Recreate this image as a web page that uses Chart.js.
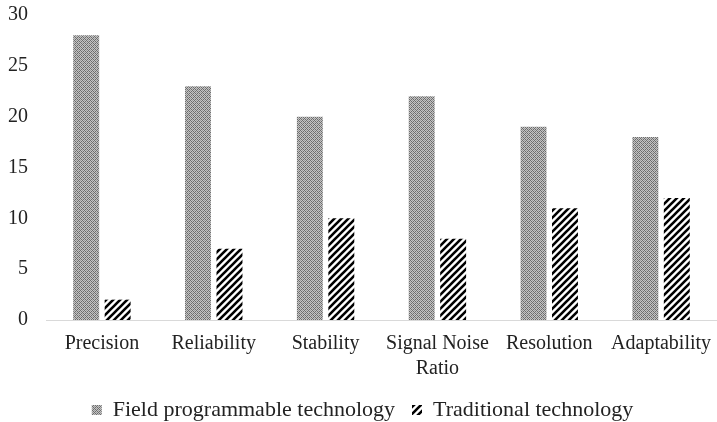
<!DOCTYPE html>
<html><head><meta charset="utf-8">
<script src="https://cdn.jsdelivr.net/npm/chart.js@4"></script>
<style>html,body{margin:0;padding:0;background:#fff}#w{width:717px;height:422px}</style>
</head><body><div id="w"><canvas id="c"></canvas></div>
<script>
const categories = ["Precision", "Reliability", "Stability", ["Signal Noise", "Ratio"], "Resolution", "Adaptability"];
const fieldValues = [28, 23, 20, 22, 19, 18];
const traditionalValues = [2, 7, 10, 8, 11, 12];
const seriesNames = ["Field programmable technology", "Traditional technology"];
const yTicks = [0, 5, 10, 15, 20, 25, 30];

function checkerPattern() {
  const c = document.createElement('canvas'); c.width = 4; c.height = 4;
  const x = c.getContext('2d');
  x.fillStyle = '#c4c4c4'; x.fillRect(0,0,4,4);
  x.fillStyle = '#6c6c6c';
  for (let i=0;i<4;i++) for (let j=0;j<4;j++) if ((i+j)%2===0) x.fillRect(i,j,1,1);
  x.fillStyle = '#999'; x.fillRect(0,0,1,1); x.fillRect(2,2,1,1);
  return x.createPattern(c, 'repeat');
}
function stripePattern() {
  const s = 7;
  const c = document.createElement('canvas'); c.width = s; c.height = s;
  const x = c.getContext('2d');
  x.fillStyle = '#fff'; x.fillRect(0,0,s,s);
  x.strokeStyle = '#000'; x.lineWidth = 2.6; x.lineCap = 'square';
  x.beginPath();
  x.moveTo(-1, s+1); x.lineTo(s+1, -1);
  x.moveTo(-s-1, s+1); x.lineTo(1, -1);
  x.moveTo(-1, 2*s+1); x.lineTo(2*s+1, -1);
  x.stroke();
  return x.createPattern(c, 'repeat');
}
const pf = checkerPattern(), pt = stripePattern();
const serif = "'Liberation Serif', 'Times New Roman', serif";

new Chart(document.getElementById('c'), {
  type: 'bar',
  data: {
    labels: categories,
    datasets: [
      { label: seriesNames[0], data: fieldValues, backgroundColor: pf, borderWidth: 0 },
      { label: seriesNames[1], data: traditionalValues, backgroundColor: pt, borderWidth: 0 }
    ]
  },
  options: {
    responsive: true, maintainAspectRatio: false, animation: false,
    categoryPercentage: 0.5625, barPercentage: 0.825,
    layout: { autoPadding: false, padding: { top: 15, right: 0, left: 8, bottom: -9 } },
    plugins: {
      tooltip: { enabled: false },
      legend: {
        position: 'bottom',
        labels: {
          font: { family: serif, size: 22 }, color: '#222',
          boxWidth: 10, boxHeight: 10, padding: 17, useBorderRadius: false
        }
      }
    },
    scales: {
      x: {
        afterFit: (s) => { s.height = 62; s.paddingLeft = 0; s.paddingRight = 0; },
        grid: { display: false, drawTicks: false },
        border: { display: true, color: '#d9d9d9', width: 1 },
        ticks: { font: { family: serif, size: 20, lineHeight: 1.25 }, color: '#222', padding: 11, maxRotation: 0, autoSkip: false }
      },
      y: {
        min: 0, max: 30,
        afterFit: (s) => { s.width = 38; s.paddingTop = 0; s.paddingBottom = 0; },
        afterBuildTicks: (ax) => { ax.ticks = yTicks.map(v => ({ value: v })); },
        grid: { display: false, drawTicks: false },
        border: { display: false },
        ticks: { font: { family: serif, size: 20 }, color: '#222', padding: 18 }
      }
    }
  }
});
</script>
</body></html>
